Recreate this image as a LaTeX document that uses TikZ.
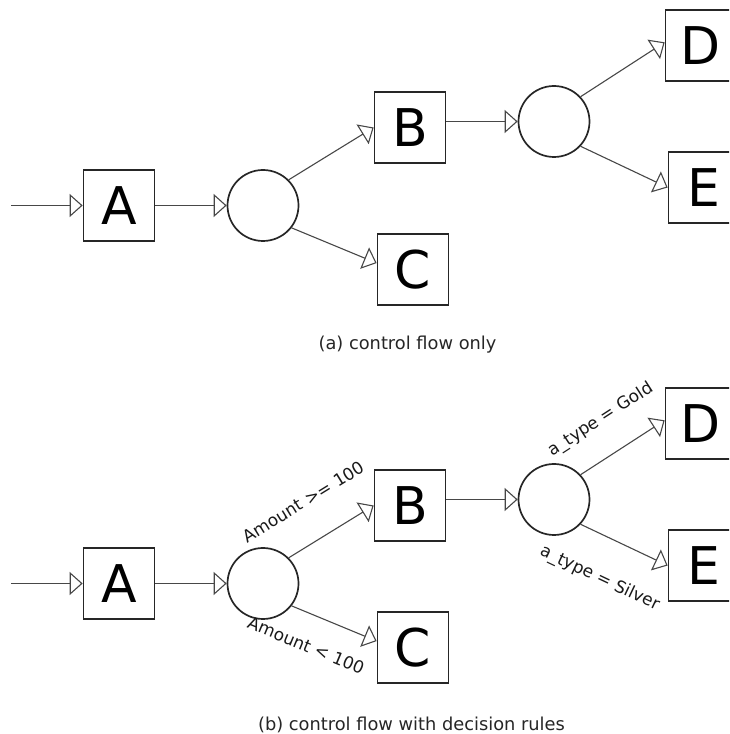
\documentclass[tikz,border=0pt]{standalone}
\usepackage{fontspec}
\setmainfont{DejaVu Sans}
\usepackage{tikz}
\usetikzlibrary{arrows.meta}
\usetikzlibrary{positioning}

\begin{document}
\begin{tikzpicture}[->, >={Triangle[open, length=13pt, width=23pt]}, x=1pt, y=1pt,
                    node distance=144pt, line width=1.1pt, black!72]
    \tikzstyle{task}=[rectangle, draw=black!85, line width=1.7pt, text=black,
                      minimum size=71pt, inner sep=0pt, font=\fontsize{52}{52}\selectfont]
    \tikzstyle{gate}=[circle, draw=black!85, line width=1.7pt, minimum size=71pt, inner sep=0pt]
    \tikzstyle{cond}=[sloped, inner sep=0pt, text=black!90, font=\fontsize{17}{17}\selectfont]
    \tikzstyle{caption}=[text=black!85, font=\fontsize{17.8}{20}\selectfont]

    \useasboundingbox (0,0) rectangle (729,734);
    \clip (0,0) rectangle (729,734);

    % (a) control flow only
    \node (A) [task] at (119,528.5) {A};
    \node (in) [coordinate, left of=A, node distance=108pt] {};
    \node (x1) [gate, right of=A] {};
    \node (B) [task, right of=x1, xshift=3pt, yshift=78pt] {B};
    \node (C) [task, right of=x1, xshift=6pt, yshift=-64pt] {C};
    \node (x2) [gate, right of=B, yshift=6pt] {};
    \node (D) [task, right of=x2, xshift=3pt, yshift=76pt] {D};
    \node (E) [task, right of=x2, xshift=6pt, yshift=-66pt] {E};
    \node (capa) [caption, below of=A, xshift=288.5pt, node distance=139.5pt] {(a) control flow only};

    \draw (in) -- (A);
    \draw (A) -- (x1);
    \draw (x1.45) -- (B.west);
    \draw (x1.-38) -- (C.170);
    \draw (B.east |- x2) -- (x2);
    \draw (x2.43) -- (D.175);
    \draw (x2.-43) -- (E.west);

    % (b) same flow, with the rules on the branches
    \node (rA) [task, below of=A, node distance=378pt] {A};
    \node (rin) [coordinate, left of=rA, node distance=108pt] {};
    \node (rx1) [gate, right of=rA] {};
    \node (rB) [task, right of=rx1, xshift=3pt, yshift=78pt] {B};
    \node (rC) [task, right of=rx1, xshift=6pt, yshift=-64pt] {C};
    \node (rx2) [gate, right of=rB, yshift=6pt] {};
    \node (rD) [task, right of=rx2, xshift=3pt, yshift=76pt] {D};
    \node (rE) [task, right of=rx2, xshift=6pt, yshift=-66pt] {E};
    \node (capb) [caption, below of=rA, xshift=292.5pt, node distance=141pt] {(b) control flow with decision rules};

    \draw (rin) -- (rA);
    \draw (rA) -- (rx1);
    \draw (rx1.45) -- node[cond, pos=0.42, above=33pt] {Amount >= 100} (rB.west);
    \draw (rx1.-38) -- node[cond, pos=0.31, below=24pt] {Amount < 100} (rC.170);
    \draw (rB.east |- rx2) -- (rx2);
    \draw (rx2.43) -- node[cond, pos=0.47, above=26pt] {a\_type = Gold} (rD.175);
    \draw (rx2.-43) -- node[cond, pos=0.42, below=32pt] {a\_type = Silver} (rE.west);
\end{tikzpicture}
\end{document}
